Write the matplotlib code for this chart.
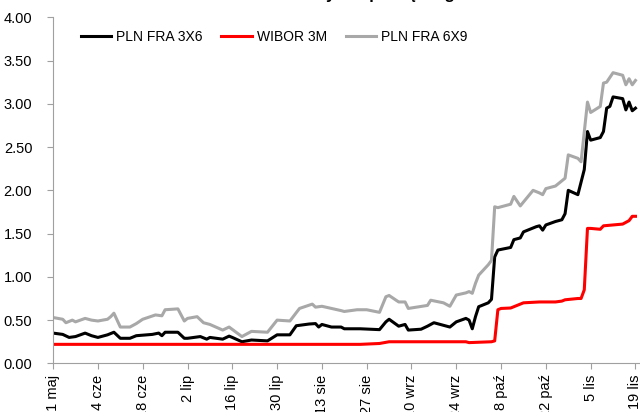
import matplotlib
matplotlib.use("Agg")
import matplotlib.pyplot as plt
import pandas as pd

plt.rcParams['font.family'] = ['Liberation Sans Narrow', 'Liberation Sans', 'DejaVu Sans']

title = "Notowania FRA na tle stawek rynku pieniężnego"

# PLN FRA 3X6
fra36_dates = ["05-21", "05-24", "05-26", "05-28", "05-31", "06-02", "06-04", "06-07", "06-09",
               "06-11", "06-14", "06-16", "06-21", "06-23", "06-24", "06-25", "06-29", "07-01",
               "07-02", "07-06", "07-08", "07-09", "07-13", "07-15", "07-16", "07-19", "07-22",
               "07-27", "07-30", "08-03", "08-05", "08-09", "08-11", "08-12", "08-13", "08-16",
               "08-19", "08-20", "08-25", "08-31", "09-02", "09-03", "09-06", "09-08", "09-09",
               "09-13", "09-15", "09-17", "09-20", "09-22", "09-24", "09-27", "09-28", "09-29",
               "09-30", "10-01", "10-04", "10-05", "10-06", "10-07", "10-11", "10-12", "10-14",
               "10-15", "10-19", "10-20", "10-21", "10-22", "10-25", "10-27", "10-28", "10-29",
               "11-01", "11-03", "11-04", "11-05", "11-08", "11-09", "11-10", "11-11", "11-12",
               "11-15", "11-16", "11-17", "11-18", "11-19"]
fra36 = [0.35, 0.335, 0.30, 0.31, 0.35, 0.32, 0.30, 0.33, 0.36,
         0.29, 0.29, 0.32, 0.335, 0.35, 0.32, 0.36, 0.36, 0.29,
         0.29, 0.31, 0.28, 0.30, 0.28, 0.315, 0.30, 0.25, 0.27,
         0.26, 0.33, 0.33, 0.435, 0.455, 0.46, 0.42, 0.45, 0.42,
         0.42, 0.40, 0.40, 0.39, 0.48, 0.51, 0.43, 0.45, 0.385,
         0.395, 0.43, 0.47, 0.44, 0.42, 0.48, 0.52, 0.50, 0.40,
         0.54, 0.655, 0.70, 0.74, 1.23, 1.31, 1.34, 1.43, 1.45,
         1.52, 1.58, 1.59, 1.54, 1.60, 1.64, 1.66, 1.73, 2.00,
         1.95, 2.24, 2.68, 2.58, 2.61, 2.68, 2.95, 2.97, 3.08,
         3.06, 2.93, 3.02, 2.92, 2.95]

# WIBOR 3M
wibor_dates = ["05-21", "08-25", "08-31", "09-03", "09-27", "09-28", "10-05", "10-06", "10-07",
               "10-08", "10-11", "10-13", "10-15", "10-20", "10-25", "10-27", "10-28", "11-01",
               "11-02", "11-03", "11-04", "11-05", "11-08", "11-09", "11-12", "11-15", "11-17",
               "11-18", "11-19"]
wibor = [0.22, 0.22, 0.23, 0.25, 0.25, 0.24, 0.25, 0.26, 0.62,
         0.635, 0.64, 0.67, 0.70, 0.71, 0.71, 0.72, 0.735, 0.75,
         0.75, 0.85, 1.56, 1.56, 1.55, 1.59, 1.60, 1.61, 1.65,
         1.70, 1.70]

# PLN FRA 6X9
fra69_dates = ["05-21", "05-24", "05-25", "05-27", "05-28", "05-31", "06-02", "06-04", "06-07",
               "06-08", "06-09", "06-11", "06-14", "06-16", "06-18", "06-22", "06-24", "06-25",
               "06-29", "07-01", "07-02", "07-05", "07-07", "07-09", "07-13", "07-15", "07-19",
               "07-22", "07-27", "07-30", "08-03", "08-06", "08-10", "08-11", "08-13", "08-16",
               "08-19", "08-20", "08-24", "08-27", "08-31", "09-02", "09-03", "09-06", "09-08",
               "09-09", "09-15", "09-16", "09-20", "09-22", "09-24", "09-27", "09-28", "09-29",
               "09-30", "10-01", "10-04", "10-05", "10-06", "10-07", "10-11", "10-12", "10-14",
               "10-18", "10-20", "10-21", "10-22", "10-25", "10-26", "10-28", "10-29", "11-01",
               "11-02", "11-04", "11-05", "11-08", "11-09", "11-10", "11-12", "11-15", "11-16",
               "11-17", "11-18", "11-19"]
fra69 = [0.53, 0.51, 0.47, 0.50, 0.48, 0.52, 0.50, 0.49, 0.51,
         0.54, 0.58, 0.42, 0.42, 0.46, 0.51, 0.56, 0.55, 0.62,
         0.63, 0.49, 0.52, 0.54, 0.47, 0.45, 0.385, 0.42, 0.31,
         0.37, 0.36, 0.50, 0.49, 0.635, 0.685, 0.65, 0.66, 0.635,
         0.61, 0.60, 0.62, 0.62, 0.59, 0.77, 0.785, 0.71, 0.71,
         0.635, 0.67, 0.73, 0.70, 0.66, 0.79, 0.815, 0.83, 0.81,
         0.925, 1.02, 1.14, 1.19, 1.81, 1.80, 1.84, 1.93, 1.82,
         2.00, 1.97, 1.95, 2.02, 2.05, 2.08, 2.14, 2.41, 2.37,
         2.33, 3.02, 2.90, 2.97, 3.24, 3.25, 3.36, 3.33, 3.22,
         3.29, 3.22, 3.27]

tick_dates = ["05-21", "06-04", "06-18", "07-02", "07-16", "07-30", "08-13",
              "08-27", "09-10", "09-24", "10-08", "10-22", "11-05", "11-19"]
tick_labels = ["21 maj", "4 cze", "18 cze", "2 lip", "16 lip", "30 lip", "13 sie",
               "27 sie", "10 wrz", "24 wrz", "8 paź", "22 paź", "5 lis", "19 lis"]


def to_dates(days):
    return pd.to_datetime(["2021-" + d for d in days])


fig = plt.figure(figsize=(6.4, 4.12), dpi=100)
ax = fig.add_axes([0.083, 0.118, 0.917, 0.840])

ax.plot(to_dates(fra36_dates), fra36, color="black", lw=2.2, label="PLN FRA 3X6")
ax.plot(to_dates(wibor_dates), wibor, color="#ff0000", lw=2.2, label="WIBOR 3M")
ax.plot(to_dates(fra69_dates), fra69, color="#a8a8a8", lw=2.2, label="PLN FRA 6X9")

ax.set_ylim(0, 4)
ax.set_yticks([0, 0.5, 1, 1.5, 2, 2.5, 3, 3.5, 4])
ax.set_yticklabels(["%.2f" % v for v in ax.get_yticks()], fontsize=10.5)
ax.set_xlim(pd.Timestamp("2021-05-21"), pd.Timestamp("2021-11-20 10:00"))
ax.set_xticks(to_dates(tick_dates))
ax.set_xticklabels(tick_labels, rotation=90, fontsize=10.5, va="top")

for s in ["top", "right"]:
    ax.spines[s].set_visible(False)
for s in ["left", "bottom"]:
    ax.spines[s].set_color("#a0a0a0")
ax.tick_params(axis="both", colors="#a0a0a0", labelcolor="black", length=4)
ax.tick_params(axis="y", pad=11)
ax.tick_params(axis="x", pad=4)

fig.legend(loc="center", bbox_to_anchor=(0.428, 0.91), ncol=3, frameon=False,
           fontsize=10, handlelength=2.2, handletextpad=0.35, columnspacing=1.35)

fig.text(0.43, 1.0 + 1.5 / 412, title, ha="center", va="baseline", fontsize=12, fontweight="bold")

fig.savefig("out.png", dpi=100)
